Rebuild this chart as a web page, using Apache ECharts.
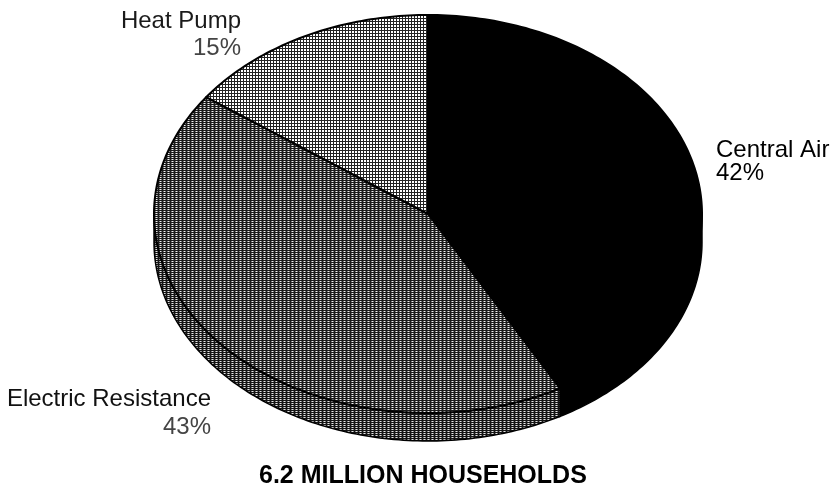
<!DOCTYPE html>
<html>
<head>
<meta charset="utf-8">
<script src="https://cdn.jsdelivr.net/npm/echarts@6/dist/echarts.min.js"></script>
<style>
  html, body { margin: 0; padding: 0; background: #ffffff; }
  #chart { width: 834px; height: 487px; }
</style>
</head>
<body>
<div id="chart"></div>
<script>
// Households by cooling equipment type
const categories = ['Central Air', 'Electric Resistance', 'Heat Pump'];
const shares = [42, 43, 15];
const chartTitle = '6.2 MILLION HOUSEHOLDS';

// Tilted pie geometry (top face ellipse + extrusion depth)
const PIE = { cx: 428, cy: 214, rx: 274, ry: 199, depth: 28 };

// Label anchors per category
const LABEL_LAYOUT = {
  'Central Air':         { x: 716, nameY: 150, pctY: 173, align: 'left',  nameColor: '#000', pctColor: '#000' },
  'Electric Resistance': { x: 211, nameY: 399, pctY: 427, align: 'right', nameColor: '#111', pctColor: '#444' },
  'Heat Pump':           { x: 241, nameY: 21,  pctY: 48,  align: 'right', nameColor: '#1a1a1a', pctColor: '#444' }
};

// Dithered screen-tone fills, built as small repeating canvas tiles
function makeTile(rows, dark, light) {
  const c = document.createElement('canvas');
  c.width = rows[0].length;
  c.height = rows.length;
  const ctx = c.getContext('2d');
  rows.forEach((row, y) => {
    for (let x = 0; x < row.length; x++) {
      ctx.fillStyle = row[x] === '#' ? dark : (row[x] === '+' ? '#8a8a8a' : light);
      ctx.fillRect(x, y, 1, 1);
    }
  });
  return { image: c, repeat: 'repeat' };
}

const FILLS = {
  'Central Air': { top: '#000000', side: '#000000' },
  'Electric Resistance': {
    top: makeTile(['####', '.+#+'], '#1a1a1a', '#f2f2f2'),
    side: makeTile(['####', '.+#+'], '#141414', '#e6e6e6')
  },
  'Heat Pump': {
    top: makeTile(['###', '#..', '#..'], '#222222', '#ffffff'),
    side: makeTile(['###', '#..', '#..'], '#1a1a1a', '#f0f0f0')
  }
};

const total = shares.reduce((a, b) => a + b, 0);
const startFrac = shares.map((v, i) => shares.slice(0, i).reduce((a, b) => a + b, 0) / total);

function pt(theta, dy) {
  return [PIE.cx + PIE.rx * Math.sin(theta), PIE.cy - PIE.ry * Math.cos(theta) + (dy || 0)];
}

function arcPoints(a, b, dy) {
  const n = Math.max(4, Math.ceil((b - a) / (Math.PI / 180)));
  const pts = [];
  for (let k = 0; k <= n; k++) pts.push(pt(a + (b - a) * k / n, dy));
  return pts;
}

function renderSlice(params, api) {
  const i = params.dataIndex;
  const name = categories[i];
  const value = api.value(0);
  const a = startFrac[i] * Math.PI * 2;
  const b = a + value / total * Math.PI * 2;
  const fill = FILLS[name];
  const children = [];

  // Visible side wall: the front half of the rim (90°..270° clockwise from top)
  const s = Math.max(a, Math.PI / 2);
  const e = Math.min(b, Math.PI * 3 / 2);
  if (e > s) {
    const topArc = arcPoints(s, e, 0);
    const lowArc = arcPoints(s, e, PIE.depth).reverse();
    children.push({
      type: 'polygon',
      shape: { points: topArc.concat(lowArc) },
      style: { fill: fill.side, stroke: '#000', lineWidth: 1.5 }
    });
  }

  // Top face
  children.push({
    type: 'polygon',
    shape: { points: [[PIE.cx, PIE.cy]].concat(arcPoints(a, b, 0)) },
    style: { fill: fill.top, stroke: '#000', lineWidth: 2, lineJoin: 'round' }
  });

  // Category label and share
  const L = LABEL_LAYOUT[name];
  const font = { fontSize: 24, fontFamily: 'Liberation Sans, Arial, sans-serif' };
  children.push({
    type: 'text',
    style: Object.assign({ text: name, x: L.x, y: L.nameY, fill: L.nameColor, align: L.align, verticalAlign: 'middle' }, font)
  });
  children.push({
    type: 'text',
    style: Object.assign({ text: value + '%', x: L.x, y: L.pctY, fill: L.pctColor, align: L.align, verticalAlign: 'middle' }, font)
  });

  return { type: 'group', children: children };
}

const chart = echarts.init(document.getElementById('chart'), null, { renderer: 'canvas' });
chart.setOption({
  animation: false,
  backgroundColor: '#ffffff',
  title: {
    text: chartTitle,
    left: 254,
    top: 459,
    textStyle: { fontSize: 25, fontWeight: 'bold', color: '#000', fontFamily: 'Liberation Sans, Arial, sans-serif' }
  },
  series: [{
    type: 'custom',
    coordinateSystem: 'none',
    renderItem: renderSlice,
    data: shares.map((v, i) => ({ name: categories[i], value: [v] }))
  }]
});
</script>
</body>
</html>
